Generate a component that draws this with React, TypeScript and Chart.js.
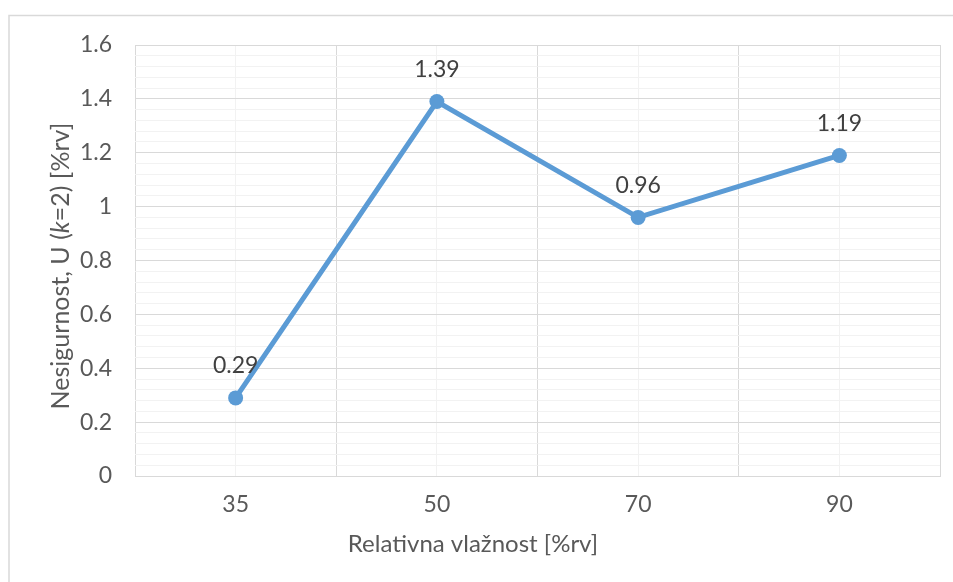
import React, { useEffect, useRef } from "react";
import { Chart, registerables } from "chart.js";

Chart.register(...registerables);

const categories = ["35", "50", "70", "90"];
const uncertainty = [0.29, 1.39, 0.96, 1.19];
const yMin = 0;
const yMax = 1.6;
const yMinorStep = 0.04;
const yMajorStep = 0.2;
const xTitle = "Relativna vlažnost [%rv]";
const yTitleParts = [
  { text: "Nesigurnost, U (", italic: false },
  { text: "k", italic: true },
  { text: "=2) [%rv]", italic: false },
];

const FONT = "Lato, sans-serif";
const FS = 23;
const TITLE_FS = 24;
const YTITLE_FS = 25;

const decorPlugin = {
  id: "decor",
  beforeDraw(chart: any) {
    const ctx = chart.ctx;
    ctx.save();
    ctx.fillStyle = "#ffffff";
    ctx.fillRect(0, 0, chart.width, chart.height);
    ctx.strokeStyle = "#d9d9d9";
    ctx.lineWidth = 1.5;
    ctx.beginPath();
    ctx.moveTo(9, chart.height);
    ctx.lineTo(9, 15.5);
    ctx.lineTo(chart.width, 15.5);
    ctx.stroke();
    ctx.restore();
  },
  afterDraw(chart: any) {
    const ctx = chart.ctx;
    ctx.save();
    const meta = chart.getDatasetMeta(0);
    ctx.fillStyle = "#404040";
    ctx.font = `${FS}px ${FONT}`;
    ctx.textAlign = "center";
    ctx.textBaseline = "middle";
    meta.data.forEach((pt: any, i: number) => {
      ctx.fillText(String(uncertainty[i]), pt.x, pt.y - 32);
    });
    ctx.fillStyle = "#595959";
    ctx.font = `${TITLE_FS}px ${FONT}`;
    ctx.fillText(xTitle, 473, 544);
    const fonts = yTitleParts.map((p) => `${p.italic ? "italic " : ""}${YTITLE_FS}px ${FONT}`);
    const widths = yTitleParts.map((p, i) => {
      ctx.font = fonts[i];
      return ctx.measureText(p.text).width;
    });
    const total = widths.reduce((a, b) => a + b, 0);
    ctx.translate(61, 266);
    ctx.rotate(-Math.PI / 2);
    ctx.textAlign = "left";
    let x = -total / 2;
    yTitleParts.forEach((p, i) => {
      ctx.font = fonts[i];
      ctx.fillText(p.text, x, 0);
      x += widths[i];
    });
    ctx.restore();
  },
};

function App() {
  const ref = useRef<HTMLCanvasElement | null>(null);
  useEffect(() => {
    if (!ref.current) return;
    const chart = new Chart(ref.current, {
      type: "line",
      data: {
        labels: categories,
        datasets: [
          {
            data: uncertainty,
            borderColor: "#5b9bd5",
            backgroundColor: "#5b9bd5",
            borderWidth: 5,
            pointRadius: 7.5,
            pointHoverRadius: 7.5,
            pointBorderWidth: 0,
            tension: 0,
          },
        ],
      },
      options: {
        animation: false,
        responsive: false,
        events: [],
        layout: { padding: { left: 0, right: 13, top: 45, bottom: 0 } },
        plugins: { legend: { display: false }, tooltip: { enabled: false } },
        scales: {
          x: {
            type: "category",
            offset: true,
            grid: { offset: true, color: "#d9d9d9", lineWidth: 1, drawTicks: false },
            border: { color: "#d9d9d9", width: 1 },
            ticks: { color: "#595959", font: { family: FONT, size: FS }, padding: 15 },
            afterFit: (s: any) => {
              s.height = 582 - 476;
            },
          },
          x2: {
            type: "category",
            position: "bottom",
            offset: true,
            grid: { offset: false, color: "#f2f2f2", lineWidth: 1, drawTicks: false },
            border: { display: false },
            ticks: { display: false },
            afterFit: (s: any) => {
              s.height = 0;
            },
          },
          y: {
            type: "linear",
            min: yMin,
            max: yMax,
            grid: {
              drawTicks: false,
              lineWidth: 1,
              color: (c: any) => {
                const v = Math.round(c.tick.value * 100);
                return v % Math.round(yMajorStep * 100) === 0 ? "#d9d9d9" : "#f2f2f2";
              },
            },
            border: { display: false },
            ticks: {
              stepSize: yMinorStep,
              maxTicksLimit: 200,
              autoSkip: false,
              color: "#595959",
              font: { family: FONT, size: FS },
              padding: 23,
              callback: (v: any) => {
                const r = Math.round(Number(v) * 100);
                if (r % Math.round(yMajorStep * 100) !== 0) return "";
                return String(r / 100);
              },
            },
            afterFit: (s: any) => {
              s.width = 135;
            },
          },
        },
      },
      plugins: [decorPlugin],
    });
    return () => chart.destroy();
  }, []);
  return (
    <div style={{ position: "fixed", left: 0, top: 0, width: 953, height: 582, background: "#fff" }}>
      <canvas ref={ref} width={953} height={582} style={{ display: "block" }} />
    </div>
  );
}

export default App;
